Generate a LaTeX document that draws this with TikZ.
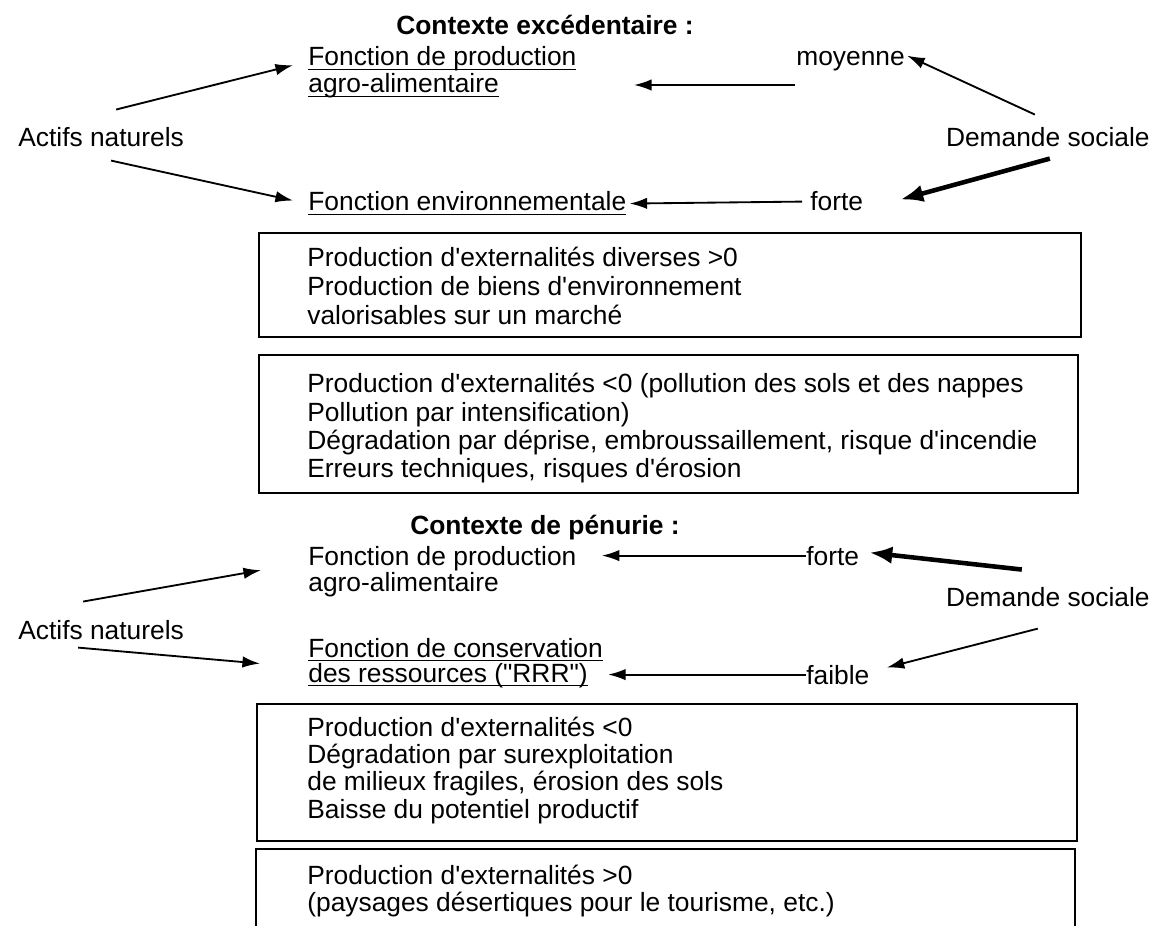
\documentclass[tikz,border=0pt]{standalone}
\usepackage{fontspec}
\setmainfont{Liberation Sans}[Ligatures=TeXOff]
\usetikzlibrary{calc,arrows.meta}
\newsavebox{\ulbox}
\newcommand{\ulx}[1]{\sbox{\ulbox}{#1}\rlap{\rule[-2.4pt]{\wd\ulbox}{0.75pt}}\usebox{\ulbox}}
\newcommand{\fstrut}{\rule{0pt}{0.4cm}}
\tikzset{
  lbl/.style={inner sep=0pt, font=\fontsize{15}{17}\selectfont},
  ttl/.style={inner sep=0pt, font=\fontsize{15}{17}\selectfont\bfseries},
  arr/.style={-{Latex[length=10pt,width=6.5pt]}, line width=1.05pt},
  thickarr/.style={-{Latex[length=13pt,width=10pt]}, line width=2.6pt},
  frame/.style={draw, line width=1.1pt, anchor=north west, inner sep=0pt},
  boxtxt/.style={inner sep=0pt, anchor=north west, align=left}
}
\begin{document}
\begin{tikzpicture}[x=0.02cm,y=-0.02cm]
\useasboundingbox (0,0) rectangle (1154,926);

% ---------- Contexte excedentaire ----------
\node[ttl, anchor=base] (cx1) at (545,35) {Contexte excédentaire :};
\node[lbl, anchor=base west] (fp1a) at (308,66) {\ulx{Fonction de production}};
\node[lbl, anchor=base west] (fp1b) at (308,93) {\ulx{agro-alimentaire}};
\node[lbl, anchor=base west] (moy) at (796,66) {moyenne};
\node[lbl, anchor=base west] (act1) at (18,147) {Actifs naturels};
\node[lbl, anchor=base east] (dem1) at (1150,147) {Demande sociale};
\node[lbl, anchor=base west] (fenv) at (308,211) {\ulx{Fonction environnementale}};
\node[lbl, anchor=base west] (forte1) at (810,211) {forte};

\node[frame, minimum width=16.44cm, minimum height=2.08cm] (b1) at (258,232) {};
\node[boxtxt, font=\fontsize{15}{16.5}\selectfont] (b1t) at (307,246.5)
  {\fstrut Production d'externalités diverses >0\\Production de biens d'environnement\\valorisables sur un marché};
\node[frame, minimum width=16.38cm, minimum height=2.76cm] (b2) at (258,354) {};
\node[boxtxt, font=\fontsize{15}{16.1}\selectfont] (b2t) at (307,372.5)
  {\fstrut Production d'externalités <0 (pollution des sols et des nappes\\Pollution par intensification)\\Dégradation par déprise, embroussaillement, risque d'incendie\\Erreurs techniques, risques d'érosion};

\draw[arr] ($(act1.north)+(15,-18)$) -- ($(fp1a.west)+(-15,6)$);
\draw[arr] ($(act1.south)+(10,13)$) -- ($(fenv.west)+(-15,-3)$);
\draw[arr] ($(moy.base west)+(-1,19)$) -- ++(-161,0);
\draw[arr] ($(dem1.north)+(-13,-13)$) -- ($(moy.east)+(2,-6)$);
\draw[thickarr] ($(dem1.south)+(2,11)$) -- ($(forte1.east)+(37,-2)$);
\draw[arr] ($(forte1.west)+(-8,0)$) -- ($(fenv.east)+(3,0)$);

% ---------- Contexte de penurie ----------
\node[ttl, anchor=base] (cx2) at (545,534) {Contexte de pénurie :};
\node[lbl, anchor=base west] (fp2a) at (308,565) {Fonction de production};
\node[lbl, anchor=base west] (fp2b) at (308,591) {agro-alimentaire};
\node[lbl, anchor=base west] (forte2) at (806,565) {forte};
\node[lbl, anchor=base east] (dem2) at (1150,606) {Demande sociale};
\node[lbl, anchor=base west] (act2) at (18,639) {Actifs naturels};
\node[lbl, anchor=base west] (fc1) at (308,657) {\ulx{Fonction de conservation}};
\node[lbl, anchor=base west] (fc2) at (308,682) {\ulx{des ressources ("RRR")}};
\node[lbl, anchor=base west] (faible) at (806,684) {faible};

\node[frame, minimum width=16.4cm, minimum height=2.74cm] (b3) at (256,703) {};
\node[boxtxt, font=\fontsize{15}{15.4}\selectfont] (b3t) at (307,716.5)
  {\fstrut Production d'externalités <0\\Dégradation par surexploitation\\de milieux fragiles, érosion des sols\\Baisse du potentiel productif};
\coordinate (b4nw) at (256,849);
\coordinate (b4ne) at (1075,849);
\draw[line width=1.1pt] ($(b4nw)+(0,100)$) -- (b4nw) -- (b4ne) -- ++(0,100);
\node[boxtxt, font=\fontsize{15}{15.4}\selectfont] (b4t) at (307,864.5)
  {\fstrut Production d'externalités >0\\(paysages désertiques pour le tourisme, etc.)};

\draw[thickarr] ($(dem2.north)+(-26,-17)$) -- ($(forte2.east)+(10,-3)$);
\draw[arr] (forte2.west) -- ($(forte2.west -| fp2a.east)+(25,0)$);
\draw[arr] ($(act2.north)+(-18,-18)$) -- ($(fp2a.west)+(-47,12)$);
\draw[arr] ($(act2.south)+(-23,8)$) -- ($(fc1.west)+(-48,14)$);
\draw[arr] (faible.west) -- ($(faible.west -| fc2.east)+(20,0)$);
\draw[arr] ($(dem2.south)+(-10,22)$) -- ($(faible.east)+(17,-7)$);
\end{tikzpicture}
\end{document}
